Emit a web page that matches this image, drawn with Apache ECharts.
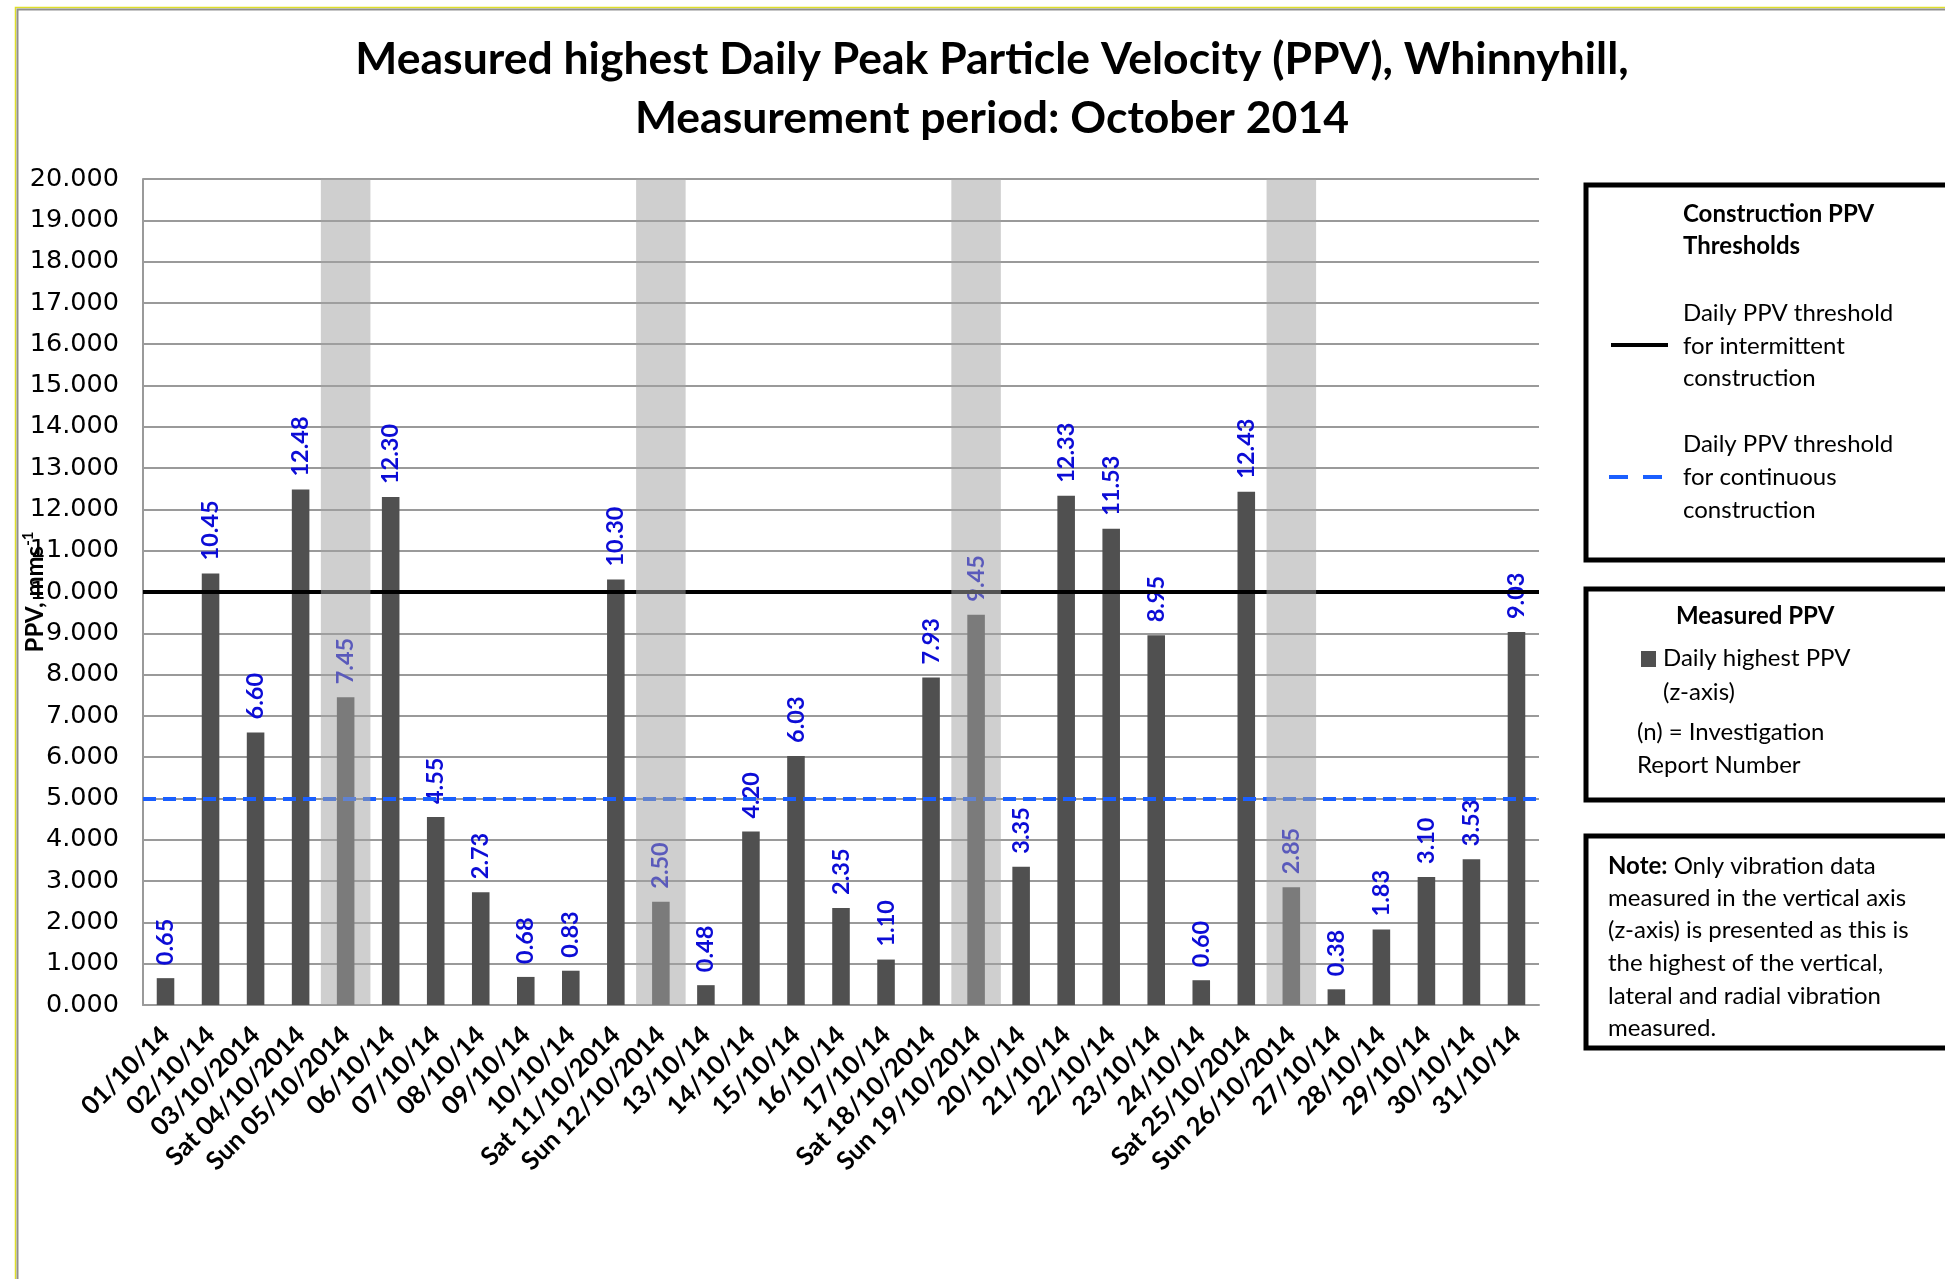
<!DOCTYPE html>
<html>
<head>
<meta charset="utf-8">
<title>Measured highest Daily PPV, Whinnyhill, October 2014</title>
<script src="https://cdn.jsdelivr.net/npm/echarts@6/dist/echarts.min.js"></script>
<style>
  html, body { margin: 0; padding: 0; background: #ffffff; }
  #chart { width: 1945px; height: 1279px; }
</style>
</head>
<body>
<div id="chart"></div>
<script>
// Measurement days (weekend days carry their weekday prefix)
const days = [
  '01/10/14', '02/10/14', '03/10/2014', 'Sat 04/10/2014', 'Sun 05/10/2014',
  '06/10/14', '07/10/14', '08/10/14', '09/10/14', '10/10/14',
  'Sat 11/10/2014', 'Sun 12/10/2014', '13/10/14', '14/10/14', '15/10/14',
  '16/10/14', '17/10/14', 'Sat 18/10/2014', 'Sun 19/10/2014', '20/10/14',
  '21/10/14', '22/10/14', '23/10/14', '24/10/14', 'Sat 25/10/2014',
  'Sun 26/10/2014', '27/10/14', '28/10/14', '29/10/14', '30/10/14', '31/10/14'
];

// Daily highest PPV, z-axis (mm/s)
const dailyPPV = [
  0.65, 10.45, 6.60, 12.48, 7.45,
  12.30, 4.55, 2.73, 0.68, 0.83,
  10.30, 2.50, 0.48, 4.20, 6.03,
  2.35, 1.10, 7.93, 9.45, 3.35,
  12.33, 11.53, 8.95, 0.60, 12.43,
  2.85, 0.38, 1.83, 3.10, 3.53, 9.03
];

// Days greyed out on the chart
const shadedDays = ['Sun 05/10/2014', 'Sun 12/10/2014', 'Sun 19/10/2014', 'Sun 26/10/2014'];

// Construction PPV thresholds (mm/s)
const intermittentThreshold = 10;
const continuousThreshold = 5;

// Value axis range
const yMin = 0;
const yMax = 20;
const yStep = 1;

const BAR_COLOR = '#505050';
const LABEL_BLUE = '#0c0cd6';
const DASH_BLUE = '#1a5fff';
const SHADE = 'rgba(163,163,163,0.52)';
const CAL = 'Lato, "Open Sans", sans-serif';
const LEGEND_SIZE = 24;

const shadeData = days.map(d => shadedDays.indexOf(d) >= 0 ? yMax : '-');

const chart = echarts.init(document.getElementById('chart'), null, { renderer: 'canvas' });

// Legend / note panels on the right
const txt = (text, x, y, bold) => ({
  type: 'text', x: x, y: y, silent: true,
  style: { text: text, fill: '#000', fontFamily: CAL, fontSize: LEGEND_SIZE,
           fontWeight: bold ? 'bold' : 'normal', verticalAlign: 'middle' }
});

const graphics = [
  // frame
  { type: 'polyline', silent: true, shape: { points: [[15.5, 1279], [15.5, 7.5], [1945, 7.5]] },
    style: { stroke: '#dede2a', lineWidth: 1.5, fill: null } },
  { type: 'polyline', silent: true, shape: { points: [[17.5, 1279], [17.5, 9.5], [1945, 9.5]] },
    style: { stroke: '#8f8f8f', lineWidth: 2, fill: null } },

  // box 1: thresholds
  { type: 'rect', silent: true, shape: { x: 1586, y: 185, width: 500, height: 375 },
    style: { stroke: '#000', lineWidth: 5, fill: '#fff' } },
  txt('Construction PPV', 1683, 214, true),
  txt('Thresholds', 1683, 246, true),
  txt('Daily PPV threshold', 1683, 313, false),
  txt('for intermittent', 1683, 346, false),
  txt('construction', 1683, 378, false),
  { type: 'line', silent: true, shape: { x1: 1611, y1: 345, x2: 1668, y2: 345 },
    style: { stroke: '#000', lineWidth: 4 } },
  txt('Daily PPV threshold', 1683, 444, false),
  txt('for continuous', 1683, 477, false),
  txt('construction', 1683, 510, false),
  { type: 'line', silent: true, shape: { x1: 1609, y1: 477, x2: 1662, y2: 477 },
    style: { stroke: DASH_BLUE, lineWidth: 4, lineDash: [19, 15] } },

  // box 2: measured PPV
  { type: 'rect', silent: true, shape: { x: 1586, y: 589, width: 500, height: 211 },
    style: { stroke: '#000', lineWidth: 5, fill: '#fff' } },
  txt('Measured PPV', 1676, 616, true),
  { type: 'rect', silent: true, shape: { x: 1641, y: 651, width: 15, height: 16 },
    style: { fill: BAR_COLOR } },
  txt('Daily highest PPV', 1663, 658, false),
  txt('(z-axis)', 1663, 692, false),
  txt('(n) = Investigation', 1637, 732, false),
  txt('Report Number', 1637, 765, false),

  // box 3: note
  { type: 'rect', silent: true, shape: { x: 1586, y: 836, width: 500, height: 212 },
    style: { stroke: '#000', lineWidth: 5, fill: '#fff' } },
  { type: 'text', x: 1608, y: 866, silent: true,
    style: { text: '{b|Note:} Only vibration data', fill: '#000', fontFamily: CAL, fontSize: LEGEND_SIZE,
             verticalAlign: 'middle',
             rich: { b: { fontFamily: CAL, fontSize: LEGEND_SIZE, fontWeight: 'bold', fill: '#000' } } } },
  txt('measured in the vertical axis', 1608, 898, false),
  txt('(z-axis) is presented as this is', 1608, 930, false),
  txt('the highest of the vertical,', 1608, 963, false),
  txt('lateral and radial vibration', 1608, 996, false),
  txt('measured.', 1608, 1028, false)
];

const option = {
  backgroundColor: '#ffffff',
  animation: false,
  title: {
    text: 'Measured highest Daily Peak Particle Velocity (PPV), Whinnyhill,\nMeasurement period: October 2014',
    left: 992,
    top: 30,
    padding: 0,
    textAlign: 'center',
    textStyle: { fontFamily: CAL, fontWeight: 'bold', fontSize: 44.5, lineHeight: 59, color: '#000' }
  },
  grid: {
    left: 143, top: 179, width: 1396, height: 826,
    containLabel: false,
    outerBoundsMode: 'none'
  },
  xAxis: [
    {
      type: 'category',
      data: days,
      axisLine: { show: true, lineStyle: { color: '#9a9a9a', width: 2 } },
      axisTick: { show: false },
      axisLabel: {
        interval: 0, rotate: 45, margin: 26,
        fontFamily: CAL, fontWeight: 'bold', fontSize: 25.5, color: '#000'
      },
      splitLine: { show: false }
    },
    {
      type: 'category',
      data: days,
      show: false
    }
  ],
  yAxis: {
    type: 'value',
    min: yMin, max: yMax, interval: yStep,
    name: '{n|PPV, mms}{s|-1}',
    nameLocation: 'middle',
    nameRotate: 90,
    nameGap: 94,
    nameMoveOverlap: false,
    nameTextStyle: {
      rich: {
        n: { fontFamily: CAL, fontWeight: 'bold', fontSize: 24, color: '#000', lineHeight: 28 },
        s: { fontFamily: CAL, fontWeight: 'bold', fontSize: 15, color: '#000', verticalAlign: 'top', lineHeight: 28 }
      }
    },
    axisLine: { show: true, lineStyle: { color: '#9a9a9a', width: 2 } },
    axisTick: { show: false },
    axisLabel: {
      margin: 24,
      fontFamily: '"DejaVu Sans", Verdana, sans-serif', fontSize: 25.5, color: '#000',
      formatter: v => v.toFixed(3)
    },
    splitLine: { show: true, lineStyle: { color: '#9a9a9a', width: 2 } }
  },
  series: [
    {
      name: 'Daily highest PPV (z-axis)',
      type: 'bar',
      data: dailyPPV,
      barWidth: '39%',
      z: 2,
      itemStyle: { color: BAR_COLOR },
      label: {
        show: true,
        position: 'top',
        distance: 13,
        rotate: 90,
        align: 'left',
        verticalAlign: 'middle',
        fontFamily: CAL, fontWeight: 'bold', fontSize: 23.5, color: LABEL_BLUE,
        formatter: p => p.value.toFixed(2)
      },
      markLine: {
        silent: true,
        symbol: 'none',
        label: { show: false },
        data: [
          { yAxis: intermittentThreshold, lineStyle: { color: '#000', width: 4, type: 'solid' } },
          { yAxis: continuousThreshold, lineStyle: { color: DASH_BLUE, width: 4, type: [13, 7] } }
        ]
      }
    },
    {
      name: 'Weekend shading',
      type: 'bar',
      xAxisIndex: 1,
      data: shadeData,
      barWidth: '110%',
      z: 10,
      silent: true,
      itemStyle: { color: SHADE }
    }
  ],
  graphic: graphics
};

chart.setOption(option);
</script>
</body>
</html>
